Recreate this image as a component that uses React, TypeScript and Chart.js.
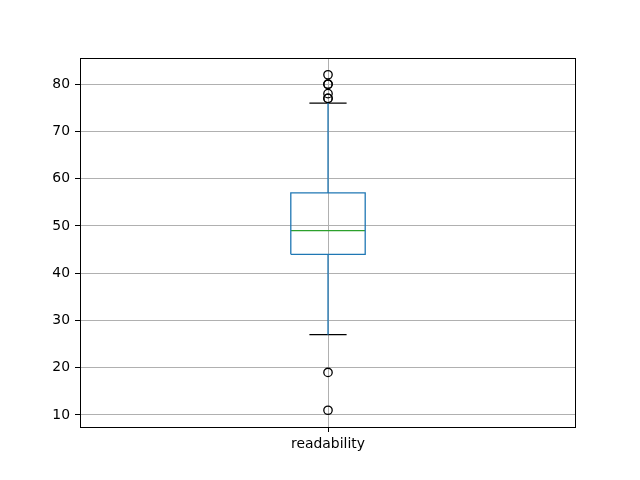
import React, { useEffect, useRef } from "react";
import { Chart, registerables } from "chart.js";

Chart.register(...registerables);

const categories = ["readability"];
const q1 = [44];
const medians = [49];
const q3 = [57];
const whiskerLow = [27];
const whiskerHigh = [76];
const outliers = [[82, 80, 80, 78, 77, 77, 19, 11]];
const yTicks = [10, 20, 30, 40, 50, 60, 70, 80];

const BOX_W = 0.15;
const CAP_W = 0.075;

const framePlugin = {
  id: "frame",
  afterDraw(chart: any) {
    const { ctx, chartArea } = chart;
    const l = Math.round(chartArea.left) + 0.5;
    const t = Math.round(chartArea.top) + 0.5;
    const r = Math.round(chartArea.right) - 0.5;
    const b = Math.round(chartArea.bottom) + 0.5;
    ctx.save();
    ctx.strokeStyle = "#000";
    ctx.lineWidth = 1;
    ctx.strokeRect(l, t, r - l, b - t);
    ctx.restore();
  },
};

export default function App() {
  const ref = useRef<HTMLCanvasElement>(null);
  useEffect(() => {
    const datasets: any[] = [];
    categories.forEach((_, i) => {
      const pos = i + 1;
      const l = pos - BOX_W / 2;
      const r = pos + BOX_W / 2;
      const line = (data: any[], color: string) => ({
        data,
        showLine: true,
        borderColor: color,
        borderWidth: 1.3,
        pointRadius: 0,
        fill: false,
      });
      datasets.push(
        line(
          [
            { x: l, y: q1[i] },
            { x: r, y: q1[i] },
            { x: r, y: q3[i] },
            { x: l, y: q3[i] },
            { x: l, y: q1[i] },
          ],
          "#1f77b4"
        )
      );
      datasets.push(line([{ x: pos, y: q1[i] }, { x: pos, y: whiskerLow[i] }], "#1f77b4"));
      datasets.push(line([{ x: pos, y: q3[i] }, { x: pos, y: whiskerHigh[i] }], "#1f77b4"));
      datasets.push(
        line([{ x: pos - CAP_W / 2, y: whiskerLow[i] }, { x: pos + CAP_W / 2, y: whiskerLow[i] }], "#000000")
      );
      datasets.push(
        line([{ x: pos - CAP_W / 2, y: whiskerHigh[i] }, { x: pos + CAP_W / 2, y: whiskerHigh[i] }], "#000000")
      );
      datasets.push(line([{ x: l, y: medians[i] }, { x: r, y: medians[i] }], "#2ca02c"));
      datasets.push({
        data: outliers[i].map((v) => ({ x: pos, y: v })),
        showLine: false,
        pointRadius: 4.2,
        pointBorderWidth: 1.3,
        pointBorderColor: "#000000",
        pointBackgroundColor: "rgba(0,0,0,0)",
      });
    });

    const allVals = [...outliers.flat(), ...whiskerLow, ...whiskerHigh];
    const lo = Math.min(...allVals);
    const hi = Math.max(...allVals);
    const m = (hi - lo) * 0.05;

    const font = { family: "DejaVu Sans", size: 13.9 };
    const chart = new Chart(ref.current!, {
      type: "scatter",
      data: { datasets },
      plugins: [framePlugin],
      options: {
        animation: false,
        responsive: false,
        devicePixelRatio: 1,
        layout: { padding: { left: 0, right: 64, top: 58, bottom: 0 } },
        plugins: { legend: { display: false }, tooltip: { enabled: false } },
        scales: {
          x: {
            type: "linear",
            min: 0.5,
            max: categories.length + 0.5,
            afterBuildTicks: (scale: any) => {
              scale.ticks = categories.map((_, i) => ({ value: i + 1 }));
            },
            afterFit: (scale: any) => {
              scale.height = 53;
            },
            ticks: {
              color: "#000",
              font,
              padding: 4,
              maxRotation: 0,
              callback: (v: any) => categories[Math.round(Number(v)) - 1] ?? "",
            },
            grid: { color: "#b0b0b0", lineWidth: 1, tickColor: "#000", tickLength: 5 },
            border: { display: false },
          },
          y: {
            type: "linear",
            min: lo - m,
            max: hi + m,
            afterBuildTicks: (scale: any) => {
              scale.ticks = yTicks.map((v) => ({ value: v }));
            },
            afterFit: (scale: any) => {
              scale.width = 80;
            },
            ticks: { color: "#000", font, padding: 5 },
            grid: { color: "#b0b0b0", lineWidth: 1, tickColor: "#000", tickLength: 5 },
            border: { display: false },
          },
        },
      },
    } as any);
    return () => chart.destroy();
  }, []);

  return (
    <div style={{ position: "fixed", left: 0, top: 0, width: 640, height: 480, background: "#fff" }}>
      <canvas ref={ref} width={640} height={480} />
    </div>
  );
}
